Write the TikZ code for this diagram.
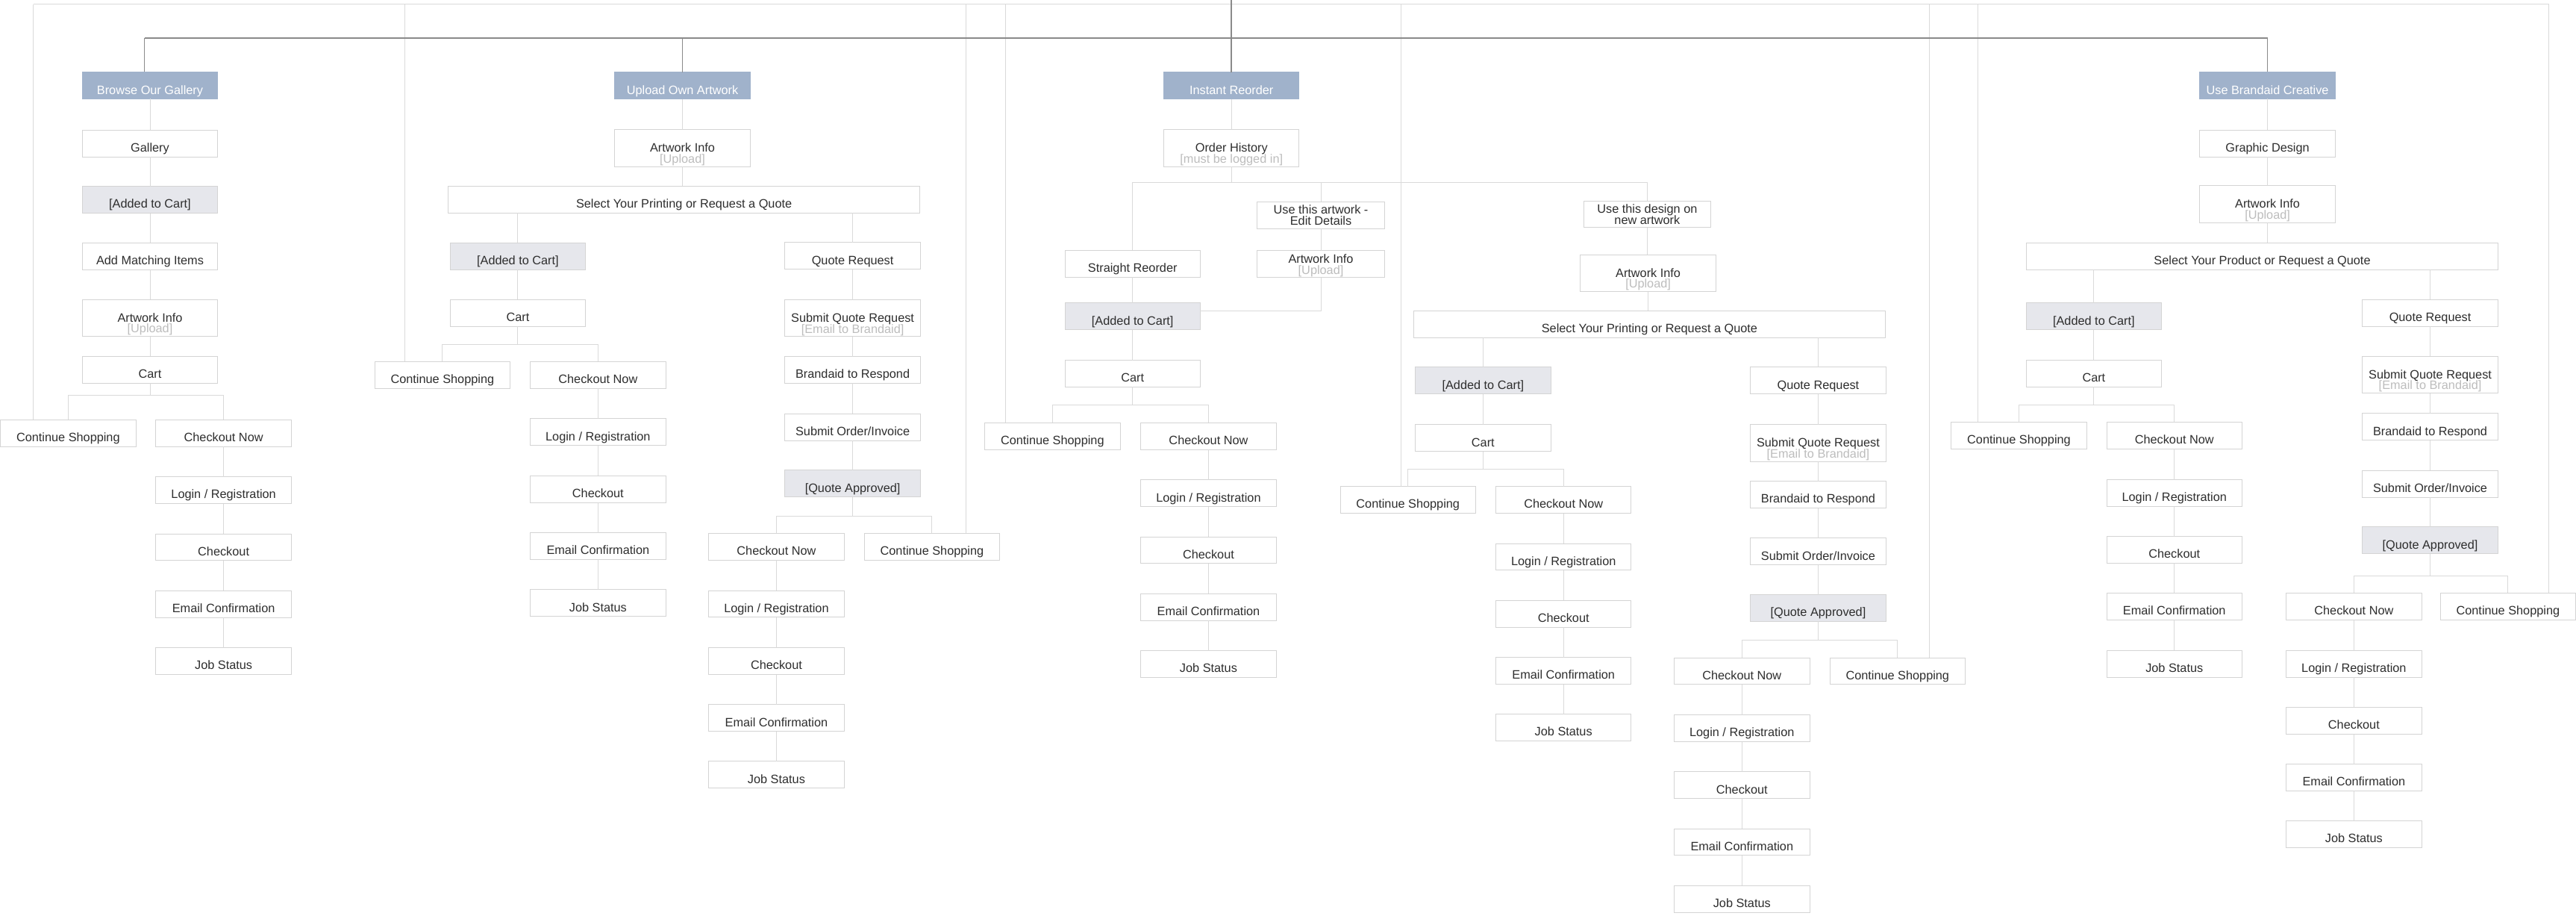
\documentclass[tikz,border=0pt]{standalone}
\usepackage{fontspec}
\setmainfont{Liberation Sans}
\definecolor{hdrc}{HTML}{A0B2CB}
\definecolor{gryc}{HTML}{E6E7EC}
\definecolor{bordc}{HTML}{D4D4D4}
\definecolor{linec}{HTML}{DADADA}
\definecolor{darkc}{HTML}{8A8A8A}
\definecolor{txtc}{HTML}{2E2E2E}
\definecolor{subc}{HTML}{BDBDBD}
\newcommand\twol[2]{\vbox{\baselineskip=6.6pt\lineskiplimit=-20pt\lineskip=0pt\halign{\hfil##\hfil\cr #1\cr #2\cr}}}
\newcommand\twos[2]{\vbox{\baselineskip=6.8pt\lineskiplimit=-20pt\lineskip=0pt\halign{\hfil##\hfil\cr #1\cr #2\cr}}}
\newcommand\subt[1]{\textcolor{subc}{#1}}
\tikzset{
  box/.style={rectangle, draw=bordc, line width=0.45pt, fill=white, anchor=north west,
    inner sep=0pt, outer sep=0pt, minimum width=82.4pt, text height=13.3pt, text depth=3pt,
    font=\fontsize{7.4}{6.6}\selectfont, text=txtc},
  hdrbox/.style={box, fill=hdrc, draw=hdrc, text=white, text height=13.7pt, text depth=2.6pt},
  grybox/.style={box, fill=gryc},
  tallbox/.style={text height=20.2pt, text depth=2.2pt},
  shorttwo/.style={text height=14.2pt, text depth=2.1pt},
  ln/.style={draw=linec, line width=0.45pt},
  dk/.style={draw=darkc, line width=0.75pt},
}
\begin{document}
\begin{tikzpicture}[x=1pt, y=-1pt]
\useasboundingbox (0,0) rectangle (1568,557.3);
% ---------- Column 1
\node[hdrbox] (h1) at (50.1,43.7) {Browse Our Gallery};
\node[box] (c1a) at (50.1,79.2) {Gallery};
\node[grybox] (c1b) at (50.1,113.4) {[Added to Cart]};
\node[box] (c1c) at (50.1,147.7) {Add Matching Items};
\node[box,tallbox] (c1d) at (50.1,182.3) {\twol{Artwork Info}{\subt{[Upload]}}};
\node[box] (c1e) at (50.1,216.8) {Cart};
\node[box] (c1cs) at (0.3,255.4) {Continue Shopping};
\node[box] (c1co) at (94.9,255.4) {Checkout Now};
\node[box] (c1l) at (94.9,290.1) {Login / Registration};
\node[box] (c1k) at (94.9,324.8) {Checkout};
\node[box] (c1m) at (94.9,359.4) {Email Confirmation};
\node[box] (c1j) at (94.9,394.1) {Job Status};
% ---------- Column 2
\node[hdrbox] (h2) at (374.2,43.9) {Upload Own Artwork};
\node[box,tallbox] (c2a) at (374.2,79) {\twol{Artwork Info}{\subt{[Upload]}}};
\node[box,minimum width=287.1pt] (c2sel) at (272.8,113.2) {Select Your Printing or Request a Quote};
\node[grybox] (c2b) at (274,147.7) {[Added to Cart]};
\node[box] (c2c) at (274,182.3) {Cart};
\node[box] (c2cs) at (228.1,220) {Continue Shopping};
\node[box] (c2co) at (322.8,220) {Checkout Now};
\node[box] (c2l) at (322.8,254.8) {Login / Registration};
\node[box] (c2k) at (322.8,289.5) {Checkout};
\node[box] (c2m) at (322.8,324.1) {Email Confirmation};
\node[box] (c2j) at (322.8,358.8) {Job Status};
\node[box] (q2a) at (477.8,147.6) {Quote Request};
\node[box,tallbox] (q2b) at (477.8,182.4) {\twol{Submit Quote Request}{\subt{[Email to Brandaid]}}};
\node[box] (q2c) at (477.8,216.9) {Brandaid to Respond};
\node[box] (q2d) at (477.8,251.7) {Submit Order/Invoice};
\node[grybox] (q2e) at (477.8,286.1) {[Quote Approved]};
\node[box] (q2co) at (431.4,324.5) {Checkout Now};
\node[box] (q2cs) at (526.1,324.5) {Continue Shopping};
\node[box] (q2l) at (431.4,359.3) {Login / Registration};
\node[box] (q2k) at (431.4,394.1) {Checkout};
\node[box] (q2m) at (431.4,428.7) {Email Confirmation};
\node[box] (q2j) at (431.4,463.3) {Job Status};
% ---------- Column 3
\node[hdrbox] (h3) at (708.4,43.9) {Instant Reorder};
\node[box,tallbox] (c3a) at (708.4,79) {\twol{Order History}{\subt{[must be logged in]}}};
\node[box] (c3s) at (648.2,152.3) {Straight Reorder};
\node[box,shorttwo,minimum width=77.8pt] (c3u) at (765.1,122.8) {\twos{Use this artwork -}{Edit Details}};
\node[box,shorttwo,minimum width=77.8pt] (c3w) at (765.1,152.5) {\twos{Artwork Info}{\subt{[Upload]}}};
\node[grybox] (c3b) at (648.2,184.4) {[Added to Cart]};
\node[box] (c3c) at (648.2,219.2) {Cart};
\node[box] (c3cs) at (599.4,257.2) {Continue Shopping};
\node[box] (c3co) at (694.4,257.2) {Checkout Now};
\node[box] (c3l) at (694.4,292) {Login / Registration};
\node[box] (c3k) at (694.4,326.6) {Checkout};
\node[box] (c3m) at (694.4,361.2) {Email Confirmation};
\node[box] (c3j) at (694.4,395.9) {Job Status};
% ---------- Column 3b
\node[box,shorttwo,minimum width=77.5pt] (c3v) at (963.9,122.2) {\twos{Use this design on}{new artwork}};
\node[box,tallbox] (c3x) at (962,155) {\twol{Artwork Info}{\subt{[Upload]}}};
\node[box,minimum width=286.7pt] (d3sel) at (860.7,189.1) {Select Your Printing or Request a Quote};
\node[grybox] (d3b) at (861.5,223.4) {[Added to Cart]};
\node[box] (d3c) at (861.5,258.4) {Cart};
\node[box] (d3cs) at (815.8,296) {Continue Shopping};
\node[box] (d3co) at (910.5,296) {Checkout Now};
\node[box] (d3l) at (910.5,330.7) {Login / Registration};
\node[box] (d3k) at (910.5,365.4) {Checkout};
\node[box] (d3m) at (910.5,400) {Email Confirmation};
\node[box] (d3j) at (910.5,434.5) {Job Status};
\node[box] (r3a) at (1065.5,223.4) {Quote Request};
\node[box,tallbox] (r3b) at (1065.5,258.4) {\twol{Submit Quote Request}{\subt{[Email to Brandaid]}}};
\node[box] (r3c) at (1065.5,292.8) {Brandaid to Respond};
\node[box] (r3d) at (1065.5,327.4) {Submit Order/Invoice};
\node[grybox] (r3e) at (1065.5,361.8) {[Quote Approved]};
\node[box] (r3co) at (1019.1,400.2) {Checkout Now};
\node[box] (r3cs) at (1113.8,400.2) {Continue Shopping};
\node[box] (r3l) at (1019.1,435) {Login / Registration};
\node[box] (r3k) at (1019.1,469.6) {Checkout};
\node[box] (r3m) at (1019.1,504.2) {Email Confirmation};
\node[box] (r3j) at (1019.1,538.8) {Job Status};
% ---------- Column 4
\node[hdrbox] (h4) at (1339,43.7) {Use Brandaid Creative};
\node[box] (c4a) at (1339,79.2) {Graphic Design};
\node[box,tallbox] (c4b) at (1339,113) {\twol{Artwork Info}{\subt{[Upload]}}};
\node[box,minimum width=287.4pt] (c4sel) at (1233.3,147.7) {Select Your Product or Request a Quote};
\node[grybox] (c4d) at (1233.3,184.4) {[Added to Cart]};
\node[box] (c4c) at (1233.3,219.1) {Cart};
\node[box] (c4cs) at (1187.7,256.8) {Continue Shopping};
\node[box] (c4co) at (1282.3,256.8) {Checkout Now};
\node[box] (c4l) at (1282.3,291.9) {Login / Registration};
\node[box] (c4k) at (1282.3,326.4) {Checkout};
\node[box] (c4m) at (1282.3,360.8) {Email Confirmation};
\node[box] (c4j) at (1282.3,395.7) {Job Status};
\node[box] (r4a) at (1438,182.3) {Quote Request};
\node[box,tallbox] (r4b) at (1438,216.8) {\twol{Submit Quote Request}{\subt{[Email to Brandaid]}}};
\node[box] (r4c) at (1438,251.6) {Brandaid to Respond};
\node[box] (r4d) at (1438,286.3) {Submit Order/Invoice};
\node[grybox] (r4e) at (1438,320.6) {[Quote Approved]};
\node[box] (r4co) at (1391.6,360.8) {Checkout Now};
\node[box] (r4cs) at (1485.4,360.8) {Continue Shopping};
\node[box] (r4l) at (1391.6,395.9) {Login / Registration};
\node[box] (r4k) at (1391.6,430.3) {Checkout};
\node[box] (r4m) at (1391.6,464.9) {Email Confirmation};
\node[box] (r4j) at (1391.6,499.5) {Job Status};

% ---------- straight vertical links
\foreach \a/\b in {h1/c1a,c1a/c1b,c1b/c1c,c1c/c1d,c1d/c1e,c1co/c1l,c1l/c1k,c1k/c1m,c1m/c1j,
  h2/c2a,c2a/c2sel,c2b/c2c,c2co/c2l,c2l/c2k,c2k/c2m,c2m/c2j,
  q2a/q2b,q2b/q2c,q2c/q2d,q2d/q2e,q2co/q2l,q2l/q2k,q2k/q2m,q2m/q2j,
  h3/c3a,c3u/c3w,c3s/c3b,c3b/c3c,c3co/c3l,c3l/c3k,c3k/c3m,c3m/c3j,
  c3v/c3x,c3x/d3sel,d3b/d3c,d3co/d3l,d3l/d3k,d3k/d3m,d3m/d3j,
  r3a/r3b,r3b/r3c,r3c/r3d,r3d/r3e,r3co/r3l,r3l/r3k,r3k/r3m,r3m/r3j,
  h4/c4a,c4a/c4b,c4b/c4sel,c4d/c4c,c4co/c4l,c4l/c4k,c4k/c4m,c4m/c4j,
  r4a/r4b,r4b/r4c,r4c/r4d,r4d/r4e,r4co/r4l,r4l/r4k,r4k/r4m,r4m/r4j}
  \draw[ln] (\a.south) -- (\a.south |- \b.north);
% drops from the wide selection bars
\foreach \s/\c in {c2sel/c2b,c2sel/q2a,d3sel/d3b,d3sel/r3a,c4sel/c4d,c4sel/r4a}
  \draw[ln] (\c.north |- \s.south) -- (\c.north);
% ---------- splits
\coordinate (sp1) at (0,240.7);
\coordinate (sp2) at (0,209.6);
\coordinate (sp2q) at (0,314.1);
\coordinate (sp3a) at (0,111);
\coordinate (sp3) at (0,246.6);
\coordinate (sp3b) at (0,285.4);
\coordinate (sp3q) at (0,389.4);
\coordinate (sp4) at (0,246.4);
\coordinate (sp4q) at (0,350.4);
\foreach \p/\c/\s in {c1e/c1cs/sp1,c1e/c1co/sp1,c2c/c2cs/sp2,c2c/c2co/sp2,
  q2e/q2co/sp2q,q2e/q2cs/sp2q,c3a/c3s/sp3a,c3a/c3u/sp3a,c3a/c3v/sp3a,
  c3c/c3cs/sp3,c3c/c3co/sp3,d3c/d3cs/sp3b,d3c/d3co/sp3b,r3e/r3co/sp3q,r3e/r3cs/sp3q,
  c4c/c4cs/sp4,c4c/c4co/sp4,r4e/r4co/sp4q,r4e/r4cs/sp4q}
  \draw[ln] (\p.south) |- (\c.north |- \s) -- (\c.north);
% artwork info joins added to cart
\coordinate (j3) at (0,189.1);
\draw[ln] (c3w.south) -- (c3w.south |- j3) -- (c3b.east |- j3);
% ---------- return lines to the top
\coordinate (f1) at (20.3,2.7);
\coordinate (f2) at (246.4,2.7);
\coordinate (f3) at (587.8,2.7);
\coordinate (f4) at (612.2,2.7);
\coordinate (f5) at (852.9,2.7);
\coordinate (f6) at (1174.4,2.7);
\coordinate (f7) at (1204,2.7);
\coordinate (f8) at (1551.6,2.7);
\draw[ln] (f1) -- (f8);
\foreach \f/\c in {f1/c1cs,f2/c2cs,f3/q2cs,f4/c3cs,f5/d3cs,f6/r3cs,f7/c4cs,f8/r4cs}
  \draw[ln] (\f) -- (\f |- \c.north);
% ---------- dark top connectors
\coordinate (top) at (749.5,0);
\coordinate (b1) at (87.9,23.2);
\coordinate (b4) at (1380.2,23.2);
\draw[dk] (top) -- (top |- h3.north);
\draw[dk] (b1) -- (b4);
\draw[dk] (b1) -- (b1 |- h1.north);
\draw[dk] (h2.north |- b1) -- (h2.north);
\draw[dk] (h4.north |- b1) -- (h4.north);
\end{tikzpicture}
\end{document}
